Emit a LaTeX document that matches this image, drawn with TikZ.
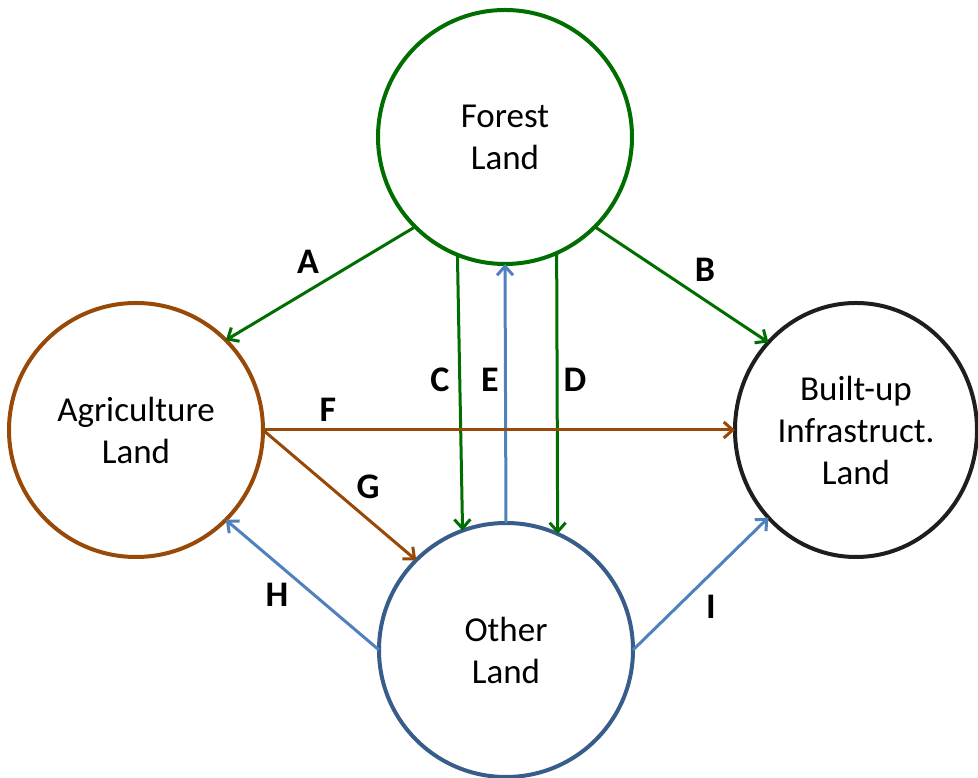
\documentclass[tikz,border=0pt]{standalone}
\usepackage{fontspec}
\setmainfont{Carlito}
\usetikzlibrary{arrows.meta,shapes.geometric}
\definecolor{fgreen}{RGB}{0,110,0}
\definecolor{abrown}{RGB}{152,72,7}
\definecolor{ablue}{RGB}{79,129,189}
\definecolor{oblue}{RGB}{56,93,138}
\definecolor{bgray}{RGB}{30,30,30}
\tikzset{
  landnode/.style={circle,draw,line width=4pt,minimum size=254pt,inner sep=0pt,outer sep=0pt,
    align=center,font=\fontsize{35}{42}\selectfont},
  flow/.style={line width=3pt,-{Straight Barb[length=9pt,width=16pt,line width=3pt]}},
  lbl/.style={font=\fontsize{36}{40}\selectfont\bfseries,inner sep=0pt}
}
\begin{document}
\begin{tikzpicture}[x=1pt,y=1pt]
\useasboundingbox (0,0) rectangle (978,778);
\node[landnode,draw=fgreen] (forest) at (505,641) {Forest\\Land};
\node[landnode,draw=abrown] (agri) at (136,348) {Agriculture\\Land};
\node[landnode,draw=oblue] (other) at (506,128) {Other\\Land};
\node[ellipse,draw=bgray,line width=4pt,minimum width=242pt,minimum height=254pt,inner sep=0pt,outer sep=0pt,
  align=center,font=\fontsize{35}{42}\selectfont] (built) at (856,348) {Built-up\\Infrastruct.\\Land};

\draw[flow,fgreen] (forest.225) -- (agri.45);
\draw[flow,fgreen] (forest.-45) -- (built.135);
\draw[flow,fgreen] (forest.248.7) -- (other.110.9);
\draw[flow,fgreen] (forest.-66.6) -- (other.66.2);
\draw[flow,ablue] (other.90) -- (forest.270);
\draw[flow,abrown] (agri.0) -- (built.180);
\draw[flow,abrown] (agri.0) -- (other.135);
\draw[flow,ablue] (other.180) -- (agri.315);
\draw[flow,ablue] (other.0) -- (built.225);

\node[lbl] (la) at (308,516) {A};
\node[lbl] (lb) at (705,508) {B};
\node[lbl] (lc) at (440,398) {C};
\node[lbl] (le) at (490,398) {E};
\node[lbl] (ld) at (575,398) {D};
\node[lbl] (lf) at (328,368) {F};
\node[lbl] (lg) at (368,291) {G};
\node[lbl] (lh) at (277,183) {H};
\node[lbl] (li) at (711,171) {I};
\end{tikzpicture}
\end{document}
